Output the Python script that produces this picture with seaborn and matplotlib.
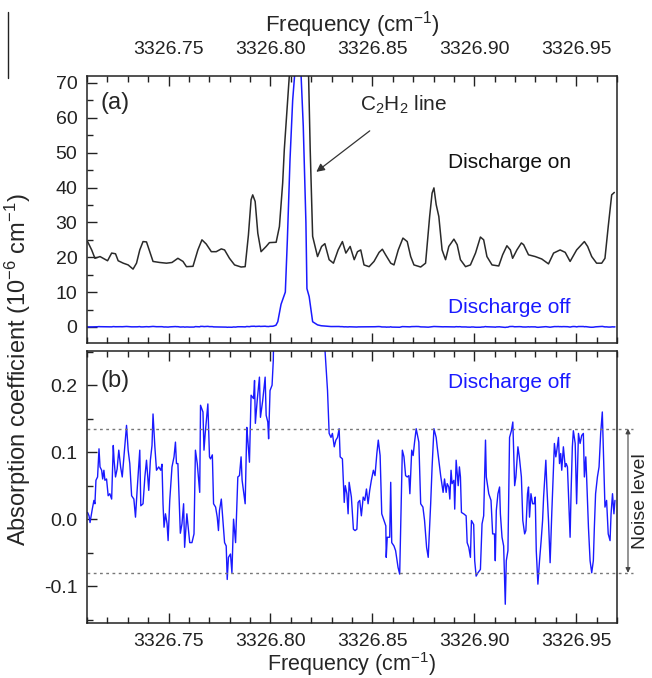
import pandas as pd
import matplotlib
matplotlib.use('Agg')
import matplotlib.pyplot as plt
from matplotlib.lines import Line2D
from matplotlib.ticker import MultipleLocator
import seaborn as sns

# discharge on (10^-6 cm^-1)
on_freq = [3326.7103, 3326.7123, 3326.7139, 3326.7164, 3326.7201, 3326.7221, 3326.7240, 3326.7253,
           3326.7278, 3326.7302, 3326.7326, 3326.7343, 3326.7359, 3326.7375, 3326.7392, 3326.7408,
           3326.7424, 3326.7457, 3326.7490, 3326.7517, 3326.7546, 3326.7571, 3326.7588, 3326.7620,
           3326.7644, 3326.7664, 3326.7685, 3326.7710, 3326.7734, 3326.7759, 3326.7775, 3326.7799,
           3326.7824, 3326.7856, 3326.7876, 3326.7892, 3326.7905, 3326.7913, 3326.7925, 3326.7938,
           3326.7954, 3326.7979, 3326.7995, 3326.8028, 3326.8044, 3326.8060, 3326.8068, 3326.8096,
           3326.8117, 3326.8142, 3326.8166, 3326.8186, 3326.8195, 3326.8207, 3326.8231, 3326.8251,
           3326.8267, 3326.8288, 3326.8309, 3326.8332, 3326.8353, 3326.8370, 3326.8391, 3326.8411,
           3326.8427, 3326.8443, 3326.8459, 3326.8484, 3326.8508, 3326.8533, 3326.8549, 3326.8566,
           3326.8590, 3326.8606, 3326.8627, 3326.8650, 3326.8671, 3326.8688, 3326.8704, 3326.8737,
           3326.8761, 3326.8781, 3326.8793, 3326.8802, 3326.8813, 3326.8826, 3326.8842, 3326.8859,
           3326.8875, 3326.8900, 3326.8916, 3326.8932, 3326.8957, 3326.8981, 3326.9006, 3326.9030,
           3326.9046, 3326.9062, 3326.9087, 3326.9120, 3326.9139, 3326.9160, 3326.9177, 3326.9188,
           3326.9209, 3326.9231, 3326.9242, 3326.9266, 3326.9299, 3326.9331, 3326.9364, 3326.9389,
           3326.9421, 3326.9446, 3326.9470, 3326.9502, 3326.9540, 3326.9556, 3326.9576, 3326.9600,
           3326.9625, 3326.9641, 3326.9657, 3326.9674, 3326.9687]
on_abs = [24.5, 22.1, 19.7, 20.2, 19.0, 21.2, 21.0, 19.0,
          18.3, 17.8, 16.6, 18.3, 22.1, 24.5, 24.4, 21.6,
          18.8, 18.5, 18.3, 18.5, 19.7, 18.8, 17.3, 17.4,
          22.1, 25.0, 23.8, 21.6, 21.6, 22.4, 22.1, 19.7,
          17.8, 17.2, 17.3, 26.4, 36.5, 37.9, 36.0, 26.9,
          21.6, 23.1, 24.2, 24.3, 28.8, 41.3, 50.9, 75.0,
          110.0, 130.0, 110.0, 75.0, 51.0, 26.0, 20.2, 23.1,
          23.9, 19.3, 18.3, 22.1, 24.5, 21.2, 23.1, 19.3,
          21.6, 22.1, 17.8, 17.3, 18.8, 21.4, 22.3, 20.6,
          18.3, 17.8, 22.1, 25.5, 24.5, 20.2, 17.8, 17.2,
          18.3, 31.7, 38.4, 39.9, 35.1, 31.7, 22.1, 19.3,
          23.1, 25.2, 23.6, 19.3, 17.3, 17.8, 21.2, 25.8,
          25.0, 20.2, 17.8, 17.5, 20.7, 23.3, 22.1, 19.7,
          22.1, 24.1, 23.6, 20.7, 20.2, 19.5, 18.1, 21.2,
          22.1, 21.4, 18.8, 22.1, 24.5, 23.1, 20.2, 18.3,
          18.3, 19.7, 28.8, 37.9, 38.6]

# discharge off (10^-6 cm^-1), noise, line peak off panel (a)
off_freq = [3326.7103, 3326.7110, 3326.7115, 3326.7126, 3326.7134, 3326.7139, 3326.7144, 3326.7152,
            3326.7159, 3326.7164, 3326.7172, 3326.7177, 3326.7183, 3326.7188, 3326.7196, 3326.7204,
            3326.7212, 3326.7221, 3326.7229, 3326.7233, 3326.7240, 3326.7248, 3326.7256, 3326.7265,
            3326.7273, 3326.7281, 3326.7286, 3326.7294, 3326.7302, 3326.7310, 3326.7319, 3326.7330,
            3326.7338, 3326.7346, 3326.7359, 3326.7364, 3326.7375, 3326.7384, 3326.7392, 3326.7403,
            3326.7411, 3326.7419, 3326.7424, 3326.7433, 3326.7441, 3326.7452, 3326.7462, 3326.7468,
            3326.7473, 3326.7478, 3326.7485, 3326.7493, 3326.7498, 3326.7506, 3326.7517, 3326.7527,
            3326.7534, 3326.7539, 3326.7546, 3326.7558, 3326.7566, 3326.7574, 3326.7579, 3326.7590,
            3326.7604, 3326.7615, 3326.7625, 3326.7632, 3326.7641, 3326.7653, 3326.7657, 3326.7669,
            3326.7674, 3326.7680, 3326.7693, 3326.7701, 3326.7706, 3326.7715, 3326.7721, 3326.7731,
            3326.7739, 3326.7745, 3326.7750, 3326.7759, 3326.7767, 3326.7775, 3326.7783, 3326.7788,
            3326.7794, 3326.7804, 3326.7811, 3326.7819, 3326.7829, 3326.7840, 3326.7848, 3326.7856,
            3326.7861, 3326.7876, 3326.7884, 3326.7889, 3326.7897, 3326.7905, 3326.7917, 3326.7922,
            3326.7926, 3326.7935, 3326.7946, 3326.7951, 3326.7962, 3326.7974, 3326.7979, 3326.7987,
            3326.7991, 3326.7998, 3326.8008, 3326.8014, 3326.8027, 3326.8036, 3326.8052, 3326.8073,
            3326.8083, 3326.8096, 3326.8109, 3326.8129, 3326.8146, 3326.8161, 3326.8174, 3326.8179,
            3326.8190, 3326.8207, 3326.8231, 3326.8249, 3326.8266, 3326.8280, 3326.8288, 3326.8297,
            3326.8304, 3326.8313, 3326.8321, 3326.8329, 3326.8337, 3326.8342, 3326.8353, 3326.8362,
            3326.8367, 3326.8375, 3326.8381, 3326.8386, 3326.8397, 3326.8407, 3326.8415, 3326.8424,
            3326.8430, 3326.8438, 3326.8446, 3326.8455, 3326.8463, 3326.8471, 3326.8479, 3326.8487,
            3326.8495, 3326.8505, 3326.8513, 3326.8522, 3326.8529, 3326.8538, 3326.8546, 3326.8557,
            3326.8566, 3326.8568, 3326.8573, 3326.8585, 3326.8590, 3326.8595, 3326.8606, 3326.8614,
            3326.8626, 3326.8634, 3326.8647, 3326.8655, 3326.8663, 3326.8671, 3326.8679, 3326.8684,
            3326.8693, 3326.8700, 3326.8707, 3326.8715, 3326.8728, 3326.8737, 3326.8748, 3326.8756,
            3326.8766, 3326.8774, 3326.8786, 3326.8793, 3326.8802, 3326.8813, 3326.8818, 3326.8826,
            3326.8835, 3326.8842, 3326.8847, 3326.8854, 3326.8862, 3326.8867, 3326.8875, 3326.8880,
            3326.8886, 3326.8891, 3326.8900, 3326.8904, 3326.8911, 3326.8916, 3326.8921, 3326.8927,
            3326.8932, 3326.8937, 3326.8948, 3326.8960, 3326.8965, 3326.8973, 3326.8981, 3326.8986,
            3326.8997, 3326.9002, 3326.9009, 3326.9018, 3326.9030, 3326.9038, 3326.9046, 3326.9055,
            3326.9059, 3326.9071, 3326.9082, 3326.9090, 3326.9099, 3326.9103, 3326.9108, 3326.9116,
            3326.9124, 3326.9128, 3326.9136, 3326.9144, 3326.9152, 3326.9157, 3326.9165, 3326.9173,
            3326.9182, 3326.9189, 3326.9198, 3326.9204, 3326.9214, 3326.9221, 3326.9231, 3326.9238,
            3326.9247, 3326.9253, 3326.9261, 3326.9266, 3326.9271, 3326.9278, 3326.9286, 3326.9294,
            3326.9299, 3326.9304, 3326.9312, 3326.9320, 3326.9328, 3326.9335, 3326.9340, 3326.9345,
            3326.9351, 3326.9356, 3326.9364, 3326.9372, 3326.9380, 3326.9389, 3326.9393, 3326.9400,
            3326.9405, 3326.9413, 3326.9418, 3326.9424, 3326.9429, 3326.9437, 3326.9446, 3326.9451,
            3326.9457, 3326.9462, 3326.9470, 3326.9475, 3326.9481, 3326.9486, 3326.9495, 3326.9502,
            3326.9511, 3326.9519, 3326.9527, 3326.9535, 3326.9540, 3326.9547, 3326.9551, 3326.9560,
            3326.9568, 3326.9576, 3326.9584, 3326.9589, 3326.9595, 3326.9604, 3326.9612, 3326.9620,
            3326.9628, 3326.9633, 3326.9641, 3326.9649, 3326.9657, 3326.9666, 3326.9671, 3326.9678,
            3326.9685, 3326.9690]
off_abs = [0.010, 0.005, -0.005, 0.015, 0.028, 0.023, 0.058, 0.063,
           0.105, 0.078, 0.073, 0.060, 0.073, 0.058, 0.060, 0.035,
           0.038, 0.030, 0.110, 0.088, 0.063, 0.075, 0.103, 0.078,
           0.063, 0.093, 0.113, 0.140, 0.103, 0.083, 0.035, 0.030,
           0.003, 0.043, 0.103, 0.020, 0.023, 0.063, 0.088, 0.043,
           0.088, 0.110, 0.157, 0.108, 0.073, 0.078, 0.073, 0.082,
           0.023, -0.012, 0.008, -0.007, -0.032, 0.028, 0.078, 0.093,
           0.115, 0.083, 0.083, -0.021, -0.007, 0.023, -0.042, 0.008,
           -0.035, -0.035, -0.022, 0.103, 0.083, 0.040, 0.170, 0.160,
           0.103, 0.128, 0.172, 0.093, 0.090, 0.096, 0.023, 0.018,
           0.003, -0.017, 0.013, 0.030, -0.002, -0.035, -0.040, -0.090,
           -0.057, -0.052, -0.080, 0.000, -0.035, 0.063, 0.065, 0.093,
           0.058, 0.023, 0.137, 0.118, 0.085, 0.185, 0.180, 0.207,
           0.143, 0.177, 0.212, 0.152, 0.177, 0.212, 0.155, 0.145,
           0.120, 0.192, 0.200, 0.237, 0.5, 1.5, 6.5, 10.0,
           25.0, 48.0, 65.0, 80.0, 78.0, 57.6, 30.0, 11.0,
           8.7, 1.5, 0.6, 0.35, 0.26, 0.192, 0.128, 0.122,
           0.128, 0.108, 0.118, 0.122, 0.135, 0.093, 0.090, 0.025,
           0.050, 0.038, 0.008, 0.055, 0.033, -0.015, -0.017, -0.015,
           0.025, 0.028, 0.005, 0.033, 0.028, 0.045, 0.023, 0.043,
           0.058, 0.073, 0.065, 0.098, 0.118, 0.095, 0.008, -0.002,
           -0.010, -0.057, -0.027, -0.027, 0.055, -0.035, -0.040, -0.047,
           -0.072, -0.082, 0.103, 0.093, 0.065, 0.063, 0.065, 0.038,
           0.103, 0.095, 0.115, 0.135, 0.115, 0.023, 0.018, -0.002,
           -0.042, -0.057, 0.023, 0.078, 0.135, 0.122, 0.108, 0.088,
           0.065, 0.050, 0.040, 0.060, 0.040, 0.053, 0.048, 0.030,
           0.073, 0.053, 0.058, 0.015, 0.088, 0.068, 0.050, 0.078,
           0.063, 0.010, 0.008, 0.005, -0.035, -0.042, -0.057, -0.002,
           -0.008, -0.062, -0.085, -0.080, -0.075, -0.007, 0.005, 0.118,
           0.063, 0.038, 0.028, -0.022, -0.022, -0.062, 0.013, 0.038,
           0.048, 0.008, -0.027, -0.040, -0.127, -0.062, -0.047, 0.122,
           0.132, 0.145, 0.050, 0.063, 0.108, 0.093, 0.063, -0.002,
           -0.022, -0.017, 0.038, 0.048, 0.003, 0.038, 0.023, 0.023,
           0.033, -0.047, -0.097, -0.062, -0.032, -0.002, 0.033, 0.058,
           0.088, 0.048, -0.002, -0.065, 0.008, 0.078, 0.113, 0.093,
           0.103, 0.122, 0.083, 0.098, 0.073, 0.108, 0.078, 0.083,
           0.078, 0.038, -0.027, 0.043, 0.108, 0.132, 0.113, 0.023,
           0.128, 0.113, 0.125, 0.128, 0.063, 0.093, 0.063, -0.012,
           -0.062, -0.080, -0.062, -0.012, 0.038, 0.063, 0.078, 0.128,
           0.160, 0.103, 0.018, 0.028, -0.022, -0.032, 0.008, 0.038,
           0.008, 0.028]

noise_upper = 0.135
noise_lower = -0.080
freq_ticks = [3326.75, 3326.80, 3326.85, 3326.90, 3326.95]

on_df = pd.DataFrame({'freq': on_freq, 'absorption': on_abs})
off_df = pd.DataFrame({'freq': off_freq, 'absorption': off_abs})

sns.set_style('white')
plt.rcParams['font.family'] = ['Liberation Sans', 'DejaVu Sans']
plt.rcParams['mathtext.fontset'] = 'custom'
plt.rcParams['mathtext.rm'] = 'Liberation Sans'
plt.rcParams['mathtext.it'] = 'Liberation Sans:italic'
plt.rcParams['axes.edgecolor'] = '#222222'
plt.rcParams['axes.linewidth'] = 1.1

fig = plt.figure(figsize=(6.52, 6.78), dpi=100)
ax1 = fig.add_axes([0.1334, 0.4941, 0.8129, 0.3938])
ax2 = fig.add_axes([0.1334, 0.0811, 0.8129, 0.4012])

blue = '#1a1aff'
xlim = (3326.710, 3326.970)

# 1. panel (a): both traces
sns.lineplot(data=on_df, x='freq', y='absorption', ax=ax1, color='#2a2a2a', lw=1.1,
             estimator=None, sort=False)
sns.lineplot(data=off_df, x='freq', y='absorption', ax=ax1, color=blue, lw=1.1,
             estimator=None, sort=False)
ax1.set_xlim(*xlim)
ax1.set_ylim(-4.6, 72)
ax1.yaxis.set_major_locator(MultipleLocator(10))
ax1.yaxis.set_minor_locator(MultipleLocator(5))
ax1.xaxis.tick_top()
ax1.xaxis.set_label_position('top')
ax1.set_xlabel('Frequency (cm$^{-1}$)', fontsize=16, labelpad=7)
ax1.set_ylabel('')

ax1.text(0.053, 0.90, '(a)', transform=ax1.transAxes, fontsize=17, ha='center', va='center')
ax1.annotate('C$_2$H$_2$ line', xy=(3326.8225, 44.5), xytext=(3326.8655, 63.8),
             fontsize=15, ha='center', va='center',
             arrowprops=dict(arrowstyle='-|>', color='#333333', lw=0.9, mutation_scale=12,
                             shrinkA=14, shrinkB=0))
ax1.text(3326.9173, 47.1, 'Discharge on', fontsize=15, ha='center', va='center', color='#111111')
ax1.text(3326.9173, 5.5, 'Discharge off', fontsize=15, ha='center', va='center', color=blue)

# 2. panel (b): zoom on discharge-off noise
sns.lineplot(data=off_df, x='freq', y='absorption', ax=ax2, color=blue, lw=1.0,
             estimator=None, sort=False)
ax2.set_xlim(*xlim)
ax2.set_ylim(-0.155, 0.251)
ax2.yaxis.set_major_locator(MultipleLocator(0.1))
ax2.yaxis.set_minor_locator(MultipleLocator(0.05))
ax2.yaxis.set_major_formatter(plt.FormatStrFormatter('%.1f'))
ax2.set_xlabel('Frequency (cm$^{-1}$)', fontsize=15.5, labelpad=0)
ax2.set_ylabel('')

for level in [noise_upper, noise_lower]:
    ax2.plot([xlim[0], 3326.978], [level, level], ls=(0, (2, 2.5)), color='#777777', lw=1.0,
             clip_on=False)
ax2.annotate('', xy=(3326.9754, noise_upper), xytext=(3326.9754, noise_lower),
             arrowprops=dict(arrowstyle='<|-|>', color='#444444', lw=0.8, mutation_scale=7,
                             shrinkA=0, shrinkB=0), annotation_clip=False)
ax2.text(3326.9817, (noise_upper + noise_lower) / 2, 'Noise level', rotation=90,
         fontsize=14, ha='center', va='center')
ax2.text(0.053, 0.89, '(b)', transform=ax2.transAxes, fontsize=17, ha='center', va='center')
ax2.text(3326.9173, 0.204, 'Discharge off', fontsize=15, ha='center', va='center', color=blue)

for ax in [ax1, ax2]:
    ax.set_xticks(freq_ticks)
    ax.set_xticklabels(['%.2f' % f for f in freq_ticks])
    ax.xaxis.set_minor_locator(MultipleLocator(0.01))
    ax.tick_params(which='both', direction='in', top=True, bottom=True, left=True, right=False,
                   labelsize=14, colors='#222222')
    ax.tick_params(which='major', length=7, width=1.0)
    ax.tick_params(which='minor', length=4, width=1.0)
    ax.tick_params(axis='y', pad=7)
ax1.tick_params(axis='x', labeltop=True, labelbottom=False, pad=13)
ax2.tick_params(axis='x', labeltop=False, labelbottom=True, pad=7)

fig.text(0.028, 0.455, 'Absorption coefficient (10$^{-6}$ cm$^{-1}$)', rotation=90,
         fontsize=17, ha='center', va='center')

# stray edge line from the source scan
fig.add_artist(Line2D([0.0123, 0.0123], [0.982, 0.885], color='#222222', lw=1.0))

fig.savefig('out.png', dpi=100)
